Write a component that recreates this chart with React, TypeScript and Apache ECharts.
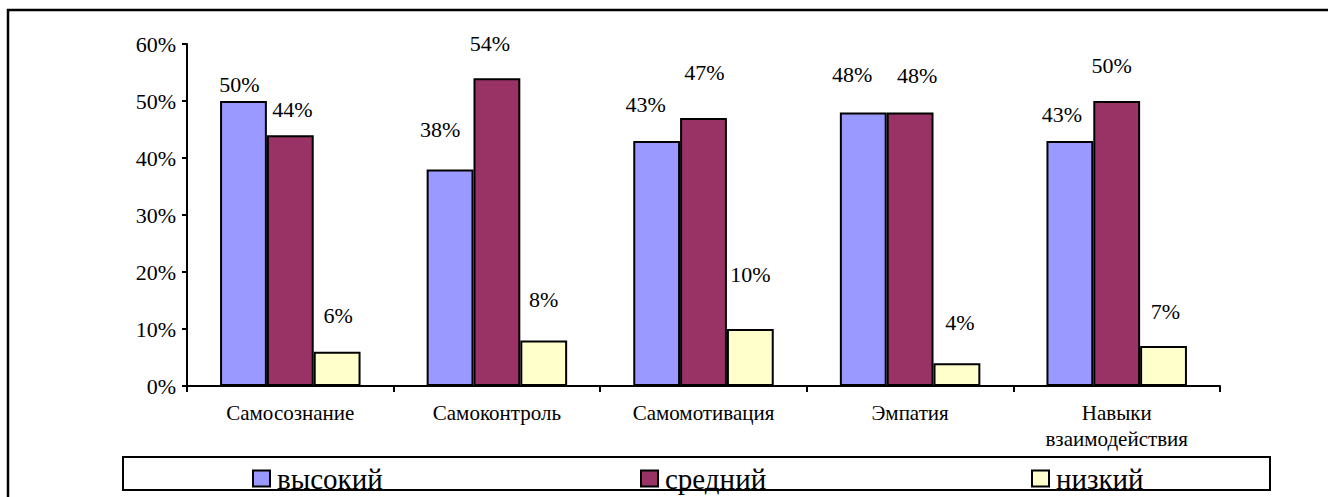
import React, { useEffect, useRef } from "react";
import * as echarts from "echarts";

const categories = ["Самосознание", "Самоконтроль", "Самомотивация", "Эмпатия", "Навыки взаимодействия"];
const seriesNames = ["высокий", "средний", "низкий"];
const highValues = [50, 38, 43, 48, 43];
const midValues = [44, 54, 47, 48, 50];
const lowValues = [6, 8, 10, 4, 7];
const yTicks = [0, 10, 20, 30, 40, 50, 60];

// label nudges (style only): [dx, text-centre height above bar top]
const highNudge = [[-4, 17], [-10, 40], [-11, 36], [-11, 38], [-8, 26]];
const midNudge = [[2, 26], [-7, 35], [1, 46], [7, 37], [-5, 36]];
const lowNudge = [[1, 36], [0, 41], [0, 55], [3, 41], [2, 35]];

const colors = ["#9999FF", "#993366", "#FFFFCC"];
const FONT = "Times New Roman, Liberation Serif, DejaVu Serif, serif";
const LABEL_SIZE = 22;

export default function App() {
  const ref = useRef<HTMLDivElement>(null);
  useEffect(() => {
    const chart = echarts.init(ref.current!, null, { renderer: "svg" });
    const mk = (name: string, values: number[], nudge: number[][], color: string) => ({
      name,
      type: "bar",
      barGap: "0%",
      barCategoryGap: "32%",
      itemStyle: { color, borderColor: "#000", borderWidth: 2 },
      label: {
        show: true,
        position: "top",
        distance: 0,
        formatter: "{c}%",
        fontFamily: FONT,
        fontSize: LABEL_SIZE,
        color: "#000",
      },
      data: values.map((v, i) => ({
        value: v,
        label: { offset: [nudge[i][0], -(nudge[i][1] - LABEL_SIZE / 2)] },
      })),
    });
    const legendAt = (name: string, left: number) => ({
      data: [name],
      left,
      top: 464,
      padding: 0,
      itemWidth: 17,
      itemHeight: 16,
      itemGap: 0,
      icon: "rect",
      textStyle: { fontFamily: FONT, fontSize: 29, color: "#000", padding: [0, 0, 0, 2] },
      itemStyle: { borderColor: "#000", borderWidth: 2 },
      selectedMode: false,
    });
    chart.setOption({
      animation: false,
      backgroundColor: "#fff",
      textStyle: { fontFamily: FONT },
      grid: { left: 187, right: 108, top: 44, bottom: 111, containLabel: false },
      xAxis: {
        type: "category",
        data: categories,
        axisLine: { lineStyle: { color: "#000", width: 2 } },
        axisTick: { show: true, length: 6, lineStyle: { color: "#000", width: 2 } },
        axisLabel: {
          fontFamily: FONT,
          fontSize: 21,
          color: "#000",
          margin: 14,
          lineHeight: 26,
          formatter: (v: string) => v.replace(" ", "\n"),
        },
      },
      yAxis: {
        type: "value",
        min: yTicks[0],
        max: yTicks[yTicks.length - 1],
        interval: 10,
        axisLine: { show: true, lineStyle: { color: "#000", width: 2 } },
        axisTick: { show: true, length: 5, lineStyle: { color: "#000", width: 2 } },
        splitLine: { show: false },
        axisLabel: { fontFamily: FONT, fontSize: 22, color: "#000", margin: 11, formatter: "{value}%" },
      },
      legend: [
        legendAt(seriesNames[0], 252),
        legendAt(seriesNames[1], 640),
        legendAt(seriesNames[2], 1031),
      ],
      series: [
        mk(seriesNames[0], highValues, highNudge, colors[0]),
        mk(seriesNames[1], midValues, midNudge, colors[1]),
        mk(seriesNames[2], lowValues, lowNudge, colors[2]),
      ],
      graphic: [
        {
          type: "rect",
          z: 100,
          shape: { x: 123, y: 457, width: 1147, height: 33 },
          style: { fill: "none", stroke: "#000", lineWidth: 2 },
        },
        {
          type: "polyline",
          z: 100,
          shape: { points: [[8, 497], [8, 10], [1328, 10]] },
          style: { fill: "none", stroke: "#000", lineWidth: 2.5 },
        },
      ],
    });
    return () => chart.dispose();
  }, []);
  return (
    <div
      ref={ref}
      style={{ position: "absolute", left: 0, top: 0, width: 1328, height: 497 }}
    />
  );
}
